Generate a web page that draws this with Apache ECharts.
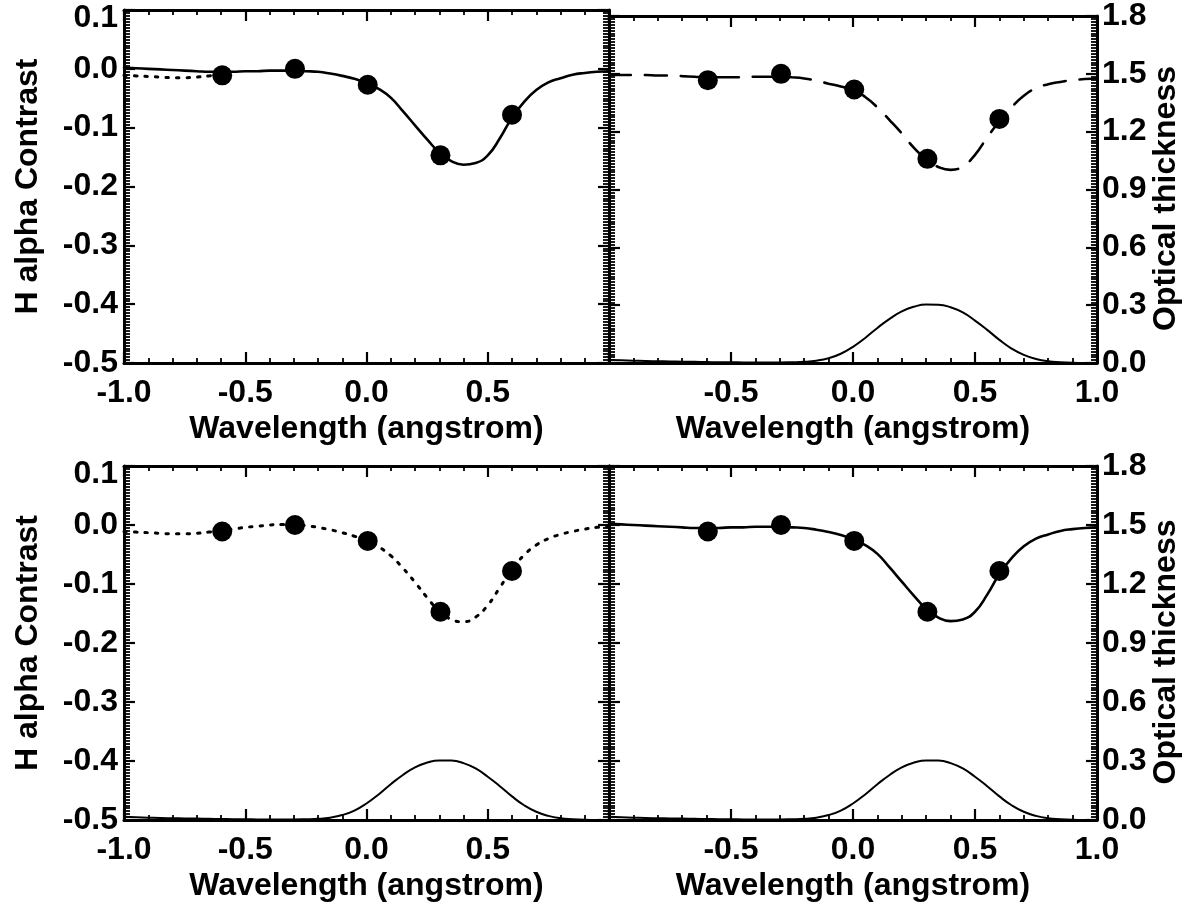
<!DOCTYPE html>
<html><head><meta charset="utf-8">
<script src="https://cdn.jsdelivr.net/npm/echarts@6/dist/echarts.min.js"></script>
<style>html,body{margin:0;padding:0;background:#fff}#c{width:1190px;height:910px}</style>
</head><body><div id="c"></div>
<script>
// ---- data ----
const waveX = [-1.00,-0.95,-0.90,-0.85,-0.80,-0.75,-0.70,-0.65,-0.60,-0.55,-0.50,-0.45,-0.40,-0.35,-0.30,-0.25,-0.20,-0.15,-0.10,-0.05,
  0.00,0.05,0.10,0.15,0.20,0.25,0.30,0.35,0.40,0.45,0.50,0.55,0.60,0.65,0.70,0.75,0.80,0.85,0.90,0.95,1.00];
const fitSolid = [0.002,0.001,0.000,-0.001,-0.002,-0.003,-0.004,-0.005,-0.005,-0.005,-0.004,-0.004,-0.003,-0.003,-0.003,-0.004,-0.005,-0.008,-0.012,-0.017,
  -0.024,-0.034,-0.049,-0.072,-0.096,-0.120,-0.142,-0.157,-0.163,-0.160,-0.147,-0.118,-0.083,-0.056,-0.036,-0.023,-0.016,-0.010,-0.007,-0.005,-0.004];
const fitDashed = [-0.002,-0.002,-0.002,-0.002,-0.003,-0.003,-0.004,-0.005,-0.006,-0.006,-0.006,-0.006,-0.005,-0.005,-0.005,-0.006,-0.008,-0.012,-0.017,-0.022,
  -0.028,-0.040,-0.058,-0.080,-0.103,-0.128,-0.148,-0.161,-0.166,-0.160,-0.140,-0.110,-0.082,-0.058,-0.038,-0.025,-0.018,-0.014,-0.011,-0.009,-0.008];
const fitDotted = [-0.011,-0.012,-0.013,-0.014,-0.015,-0.015,-0.014,-0.012,-0.010,-0.007,-0.004,-0.002,0.000,0.001,0.001,-0.001,-0.004,-0.008,-0.013,-0.019,
  -0.026,-0.037,-0.052,-0.073,-0.097,-0.123,-0.146,-0.160,-0.164,-0.156,-0.136,-0.106,-0.075,-0.051,-0.034,-0.023,-0.016,-0.011,-0.007,-0.004,-0.003];
const opticalDepth = [0.016,0.014,0.012,0.010,0.009,0.008,0.007,0.006,0.005,0.004,0.004,0.003,0.003,0.003,0.003,0.004,0.006,0.012,0.025,0.048,
  0.084,0.130,0.182,0.229,0.268,0.292,0.303,0.302,0.289,0.262,0.220,0.172,0.120,0.075,0.042,0.021,0.009,0.004,0.001,0.000,0.000];
const obsX = [-0.595,-0.295,0.005,0.305,0.600];
const obsContrast = [-0.011,0.000,-0.027,-0.147,-0.078];
const contrastRange = [-0.5, 0.1, 0.1];   // min, max, interval
const opticalRange = [0.0, 1.8, 0.3];
const waveRange = [-1.0, 1.0, 0.5];
const xTitle = 'Wavelength (angstrom)';
const yTitleLeft = 'H alpha Contrast';
const yTitleRight = 'Optical thickness';

// ---- layout ----
const FONT = 'Liberation Sans';
const grids = [
  {left:124, top:10, width:485, height:353},
  {left:609, top:10, width:488, height:353},
  {left:124, top:466, width:485, height:354},
  {left:609, top:466, width:488, height:354}
];
const fmt = v => Math.abs(v) < 1e-9 ? '0.0' : v.toFixed(1);
const txt = {fontFamily:FONT, fontWeight:'bold', fontSize:32, color:'#000'};
const ttl = Object.assign({}, txt, {fontSize:32});
const line = {show:true, onZero:false, lineStyle:{color:'#000', width:3}};
const tick = {show:true, inside:true, length:11, lineStyle:{color:'#000', width:2.2}};
function minor(n, len){ return {show:true, splitNumber:n, length:len, lineStyle:{color:'#000', width:1.8}}; }

const xAxis = [], yAxis = [], series = [];
grids.forEach((g, i) => {
  const isLeft = (i % 2 === 0);
  xAxis.push({type:'value', gridIndex:i, position:'bottom', min:waveRange[0], max:waveRange[1], interval:waveRange[2],
    axisLine:line, axisTick:tick, minorTick:minor(5, 5), splitLine:{show:false},
    axisLabel:Object.assign({margin:14, formatter:fmt, showMinLabel:isLeft, showMaxLabel:!isLeft}, txt),
    name:xTitle, nameLocation:'middle', nameGap:50, nameTextStyle:ttl});
  xAxis.push({type:'value', gridIndex:i, position:'top', min:waveRange[0], max:waveRange[1], interval:waveRange[2],
    axisLine:line, axisTick:tick, minorTick:minor(5, 5), splitLine:{show:false}, axisLabel:{show:false}});
  yAxis.push({type:'value', gridIndex:i, position:'left', min:contrastRange[0], max:contrastRange[1], interval:contrastRange[2],
    axisLine:line, axisTick:tick, minorTick:minor(20, 6), splitLine:{show:false},
    axisLabel: isLeft ? Object.assign({margin:6,
        formatter: v => Math.abs(v - contrastRange[1]) < 1e-9 ? '{t|' + fmt(v) + '}' : fmt(v),
        rich:{t:Object.assign({padding:[16,0,0,0]}, txt)}}, txt) : {show:false},
    name: isLeft ? yTitleLeft : '', nameLocation:'middle', nameGap:80, nameRotate:90, nameTextStyle:ttl});
  yAxis.push({type:'value', gridIndex:i, position:'right', min:opticalRange[0], max:opticalRange[1], interval:opticalRange[2],
    axisLine:line, axisTick:tick, minorTick:minor(20, 6), splitLine:{show:false},
    axisLabel: !isLeft ? Object.assign({margin:5, formatter:fmt, padding:[16,0,0,0]}, txt) : {show:false},
    name: !isLeft ? yTitleRight : '', nameLocation:'middle', nameGap:50, nameRotate:90,
    nameTextStyle:Object.assign({}, ttl, {padding:[0,18,0,0]})});
});

const pairs = arr => waveX.map((x, k) => [x, arr[k]]);
const obs = obsX.map((x, k) => [x, obsContrast[k]]);
function curve(i, arr, type, width, onOptical){
  return {type:'line', xAxisIndex:2*i, yAxisIndex:2*i + (onOptical ? 1 : 0), data:arr, smooth:true,
    showSymbol:false, symbol:'none', silent:true,
    lineStyle:{color:'#000', width:width, type:type, cap:'round'}};
}
function points(i){
  return {type:'scatter', xAxisIndex:2*i, yAxisIndex:2*i, data:obs, symbol:'circle', symbolSize:20,
    itemStyle:{color:'#000', opacity:1}, z:5, silent:true};
}
// top left: solid fit + dotted extrapolation at left edge
series.push(curve(0, pairs(fitDotted).filter(p => p[0] <= -0.6), [2.5, 8], 3, false));
series.push(curve(0, pairs(fitSolid), 'solid', 2.6, false));
series.push(points(0));
// top right: dashed fit + optical thickness
series.push(curve(1, pairs(fitDashed), [22, 14], 2.6, false));
series.push(curve(1, pairs(opticalDepth), 'solid', 2, true));
series.push(points(1));
// bottom left: dotted fit + optical thickness
series.push(curve(2, pairs(fitDotted), [2.5, 8], 3, false));
series.push(curve(2, pairs(opticalDepth), 'solid', 2, true));
series.push(points(2));
// bottom right: solid fit + optical thickness
series.push(curve(3, pairs(fitSolid), 'solid', 2.6, false));
series.push(curve(3, pairs(opticalDepth), 'solid', 2, true));
series.push(points(3));

const chart = echarts.init(document.getElementById('c'), null, {renderer:'canvas'});
chart.setOption({animation:false, backgroundColor:'#fff', grid:grids, xAxis:xAxis, yAxis:yAxis, series:series});
</script></body></html>
